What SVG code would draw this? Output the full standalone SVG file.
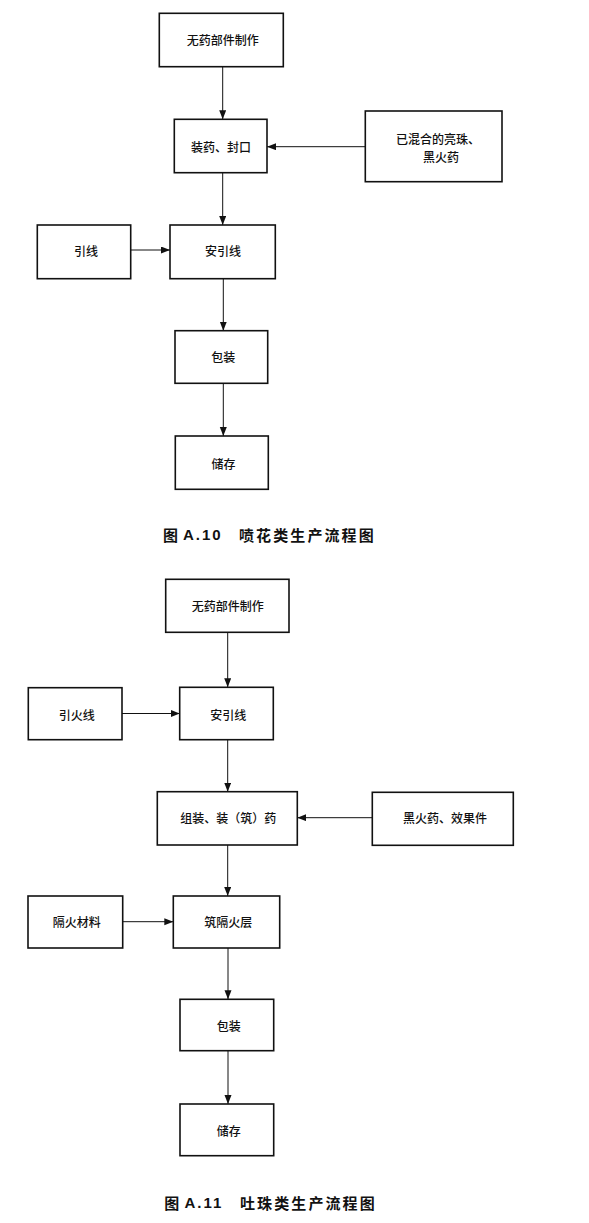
<svg xmlns="http://www.w3.org/2000/svg" width="589" height="1223" viewBox="0 0 589 1223">
<style>
.box{fill:#fff;stroke:#111;stroke-width:1.6}
.t{font-family:"Noto Sans CJK SC","Liberation Sans",sans-serif;font-size:12px;font-weight:500;fill:#111;text-anchor:middle;dominant-baseline:central}
.c{stroke:#111;stroke-width:1;fill:none;marker-end:url(#ah)}
.cap{font-family:"Noto Sans CJK SC","Liberation Sans",sans-serif;font-size:15px;font-weight:bold;fill:#111;dominant-baseline:central}
.capl{font-family:"Liberation Sans","Noto Sans CJK SC",sans-serif;font-size:15px;font-weight:bold;fill:#111;dominant-baseline:central;letter-spacing:2px}
</style>
<defs>
<marker id="ah" markerUnits="userSpaceOnUse" markerWidth="10" markerHeight="8" refX="9" refY="3.5" orient="auto">
<path d="M0,0 L9,3.5 L0,7 z" fill="#111"/>
</marker>
</defs>
<rect width="589" height="1223" fill="#fff"/>

<g id="connectors">
<line class="c" x1="222.7" y1="66.7" x2="222.7" y2="119.3"/>
<line class="c" x1="365.3" y1="146.7" x2="267" y2="146.7"/>
<line class="c" x1="222.7" y1="172.7" x2="222.7" y2="225"/>
<line class="c" x1="130.7" y1="250" x2="170" y2="250"/>
<line class="c" x1="223.3" y1="278.7" x2="223.3" y2="330.7"/>
<line class="c" x1="223.3" y1="383.3" x2="223.3" y2="436"/>

<line class="c" x1="227.7" y1="632.3" x2="227.7" y2="687.3"/>
<line class="c" x1="122" y1="713.5" x2="179.7" y2="713.5"/>
<line class="c" x1="227.7" y1="739.7" x2="227.7" y2="791.7"/>
<line class="c" x1="372.3" y1="817.7" x2="297.3" y2="817.7"/>
<line class="c" x1="227.7" y1="845" x2="227.7" y2="896"/>
<line class="c" x1="122.7" y1="921.7" x2="173.3" y2="921.7"/>
<line class="c" x1="228" y1="948" x2="228" y2="999.3"/>
<line class="c" x1="228" y1="1050.7" x2="228" y2="1104"/>
</g>

<g id="a10-wuyao"><rect class="box" x="159.3" y="13.3" width="124" height="53.4"/><text class="t" x="222.7" y="39.3">无药部件制作</text></g>
<g id="a10-zhuangyao"><rect class="box" x="174.3" y="119.3" width="92.7" height="53.4"/><text class="t" x="221" y="146.7">装药、封口</text></g>
<g id="a10-hunhe"><rect class="box" x="365.3" y="111" width="136.7" height="70.7"/><text class="t" x="438" y="138.3">已混合的亮珠、</text><text class="t" x="441" y="156.7">黑火药</text></g>
<g id="a10-yinxian"><rect class="box" x="37.3" y="225" width="93.4" height="53.7"/><text class="t" x="86" y="250.7">引线</text></g>
<g id="a10-anyinxian"><rect class="box" x="170" y="225" width="105.3" height="53.7"/><text class="t" x="223" y="250.7">安引线</text></g>
<g id="a10-baozhuang"><rect class="box" x="175" y="330.7" width="92.7" height="52.6"/><text class="t" x="223.3" y="356.7">包装</text></g>
<g id="a10-chucun"><rect class="box" x="175.3" y="436" width="93" height="53.3"/><text class="t" x="223.5" y="463.3">储存</text></g>
<g id="a10-caption"><text class="cap" x="163" y="534.3">图</text><text class="capl" x="183" y="534.3">A.10</text><text class="cap" x="239" y="534.3" letter-spacing="2.1">喷花类生产流程图</text></g>

<g id="a11-wuyao"><rect class="box" x="165.7" y="579.3" width="123.3" height="53"/><text class="t" x="227.7" y="605">无药部件制作</text></g>
<g id="a11-yinhuoxian"><rect class="box" x="28.3" y="687.7" width="93.7" height="52"/><text class="t" x="76.7" y="714">引火线</text></g>
<g id="a11-anyinxian"><rect class="box" x="179.7" y="687.3" width="93.6" height="52.4"/><text class="t" x="228.3" y="714">安引线</text></g>
<g id="a11-zuzhuang"><rect class="box" x="157.3" y="791.7" width="140" height="53.3"/><text class="t" x="228.3" y="817.7">组装、装（筑）药</text></g>
<g id="a11-heihuoyao"><rect class="box" x="372.3" y="792.3" width="141" height="53"/><text class="t" x="445" y="817.7">黑火药、效果件</text></g>
<g id="a11-gehuocailiao"><rect class="box" x="28" y="896" width="94.7" height="52"/><text class="t" x="76.7" y="921.7">隔火材料</text></g>
<g id="a11-zhugehuoceng"><rect class="box" x="173.3" y="896" width="106.4" height="52"/><text class="t" x="228.3" y="921.7">筑隔火层</text></g>
<g id="a11-baozhuang"><rect class="box" x="180" y="999.3" width="93.7" height="51.4"/><text class="t" x="228.7" y="1025">包装</text></g>
<g id="a11-chucun"><rect class="box" x="180" y="1104" width="93.7" height="51.7"/><text class="t" x="228.7" y="1130">储存</text></g>
<g id="a11-caption"><text class="cap" x="164.3" y="1202.3">图</text><text class="capl" x="184.5" y="1202.3">A.11</text><text class="cap" x="240" y="1202.3" letter-spacing="2.1">吐珠类生产流程图</text></g>
</svg>
